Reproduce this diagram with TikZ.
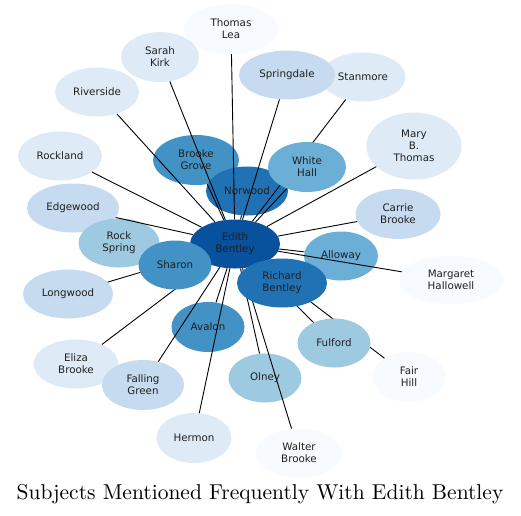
\documentclass[tikz,border=0pt]{standalone}
\usepackage{fontspec}
\setsansfont{DejaVu Sans}
\newfontfamily\titlefont{lmroman10-regular.otf}
\usetikzlibrary{shapes.geometric}
\pgfdeclarelayer{front}
\pgfsetlayers{main,front}
\definecolor{bA}{HTML}{F7FBFF}
\definecolor{bB}{HTML}{DEEBF7}
\definecolor{bC}{HTML}{C6DBEF}
\definecolor{bD}{HTML}{9ECAE1}
\definecolor{bE}{HTML}{6BAED6}
\definecolor{bF}{HTML}{4292C6}
\definecolor{bG}{HTML}{2171B5}
\definecolor{bH}{HTML}{08519C}
\tikzset{
  nd/.style={ellipse, inner sep=0pt, draw=none, align=center, text=black!88,
    font=\sffamily\fontsize{10.3}{11.9}\selectfont},
  sz/.style 2 args={minimum width=#1pt, minimum height=#2pt},
  edge/.style={draw=black, line width=0.9pt},
  ttl/.style={anchor=base, inner sep=0pt, font=\titlefont\fontsize{21.5}{25}\selectfont}
}
\begin{document}
\begin{tikzpicture}[x=1pt,y=-1pt]
\useasboundingbox (0,0) rectangle (521,515);
% lower nodes
\node[nd, fill=bA, sz={94}{50}] (thomas) at (231,29) {Thomas\\Lea};
\node[nd, fill=bB, sz={78}{50}] (sarah) at (160,57) {Sarah\\Kirk};
\node[nd, fill=bB, sz={84}{49}] (riverside) at (97,92) {Riverside};
\node[nd, fill=bB, sz={84}{49}] (rockland) at (60,156) {Rockland};
\node[nd, fill=bC, sz={92}{49}] (edgewood) at (73,208) {Edgewood};
\node[nd, fill=bD, sz={81}{49}] (rockspring) at (119,243) {Rock\\Spring};
\node[nd, fill=bF, sz={86}{50}] (brooke) at (196,160) {Brooke\\Grove};
\node[nd, fill=bG, sz={82}{49}] (norwood) at (247,191) {Norwood};
\node[nd, fill=bB, sz={85}{49}] (stanmore) at (363,77) {Stanmore};
\node[nd, fill=bC, sz={96}{49}] (springdale) at (287,75) {Springdale};
\node[nd, fill=bB, sz={95}{67}] (mary) at (414,146) {Mary\\B.\\Thomas};
\node[nd, fill=bC, sz={85}{50}] (carrie) at (398,214) {Carrie\\Brooke};
\node[nd, fill=bE, sz={74}{49}] (alloway) at (341,256) {Alloway};
\node[nd, fill=bA, sz={104}{49}] (margaret) at (451,280) {Margaret\\Hallowell};
\node[nd, fill=bA, sz={73}{50}] (fairhill) at (409,377) {Fair\\Hill};
\node[nd, fill=bA, sz={86}{49}] (walter) at (299,453) {Walter\\Brooke};
\node[nd, fill=bD, sz={73}{49}] (olney) at (265,378) {Olney};
\node[nd, fill=bB, sz={75}{50}] (hermon) at (194,438) {Hermon};
\node[nd, fill=bF, sz={73}{50}] (avalon) at (208,327) {Avalon};
\node[nd, fill=bB, sz={85}{49}] (eliza) at (76,364) {Eliza\\Brooke};
\node[nd, fill=bC, sz={82}{50}] (falling) at (143,385) {Falling\\Green};
\node[nd, fill=bC, sz={90}{49}] (longwood) at (68,294) {Longwood};
% upper nodes
\begin{pgfonlayer}{front}
\node[nd, fill=bH, sz={90}{49}] (edith) at (235,244) {Edith\\Bentley};
\node[nd, fill=bE, sz={78}{50}] (whitehall) at (307,167) {White\\Hall};
\node[nd, fill=bF, sz={73}{49}] (sharon) at (175,265) {Sharon};
\node[nd, fill=bG, sz={90}{49}] (richard) at (282,283) {Richard\\Bentley};
\node[nd, fill=bD, sz={73}{49}] (fulford) at (334,343) {Fulford};
\end{pgfonlayer}
% connectors
\foreach \t in {thomas,sarah,riverside,rockland,edgewood,rockspring,brooke,norwood,
  stanmore,springdale,mary,carrie,alloway,margaret,fairhill,walter,olney,hermon,
  avalon,eliza,falling,longwood,whitehall,sharon,richard,fulford}
  \draw[edge] (edith) -- (\t);
% title
\node[ttl] (title) at (260,499) {Subjects Mentioned Frequently With Edith Bentley};
\end{tikzpicture}
\end{document}
